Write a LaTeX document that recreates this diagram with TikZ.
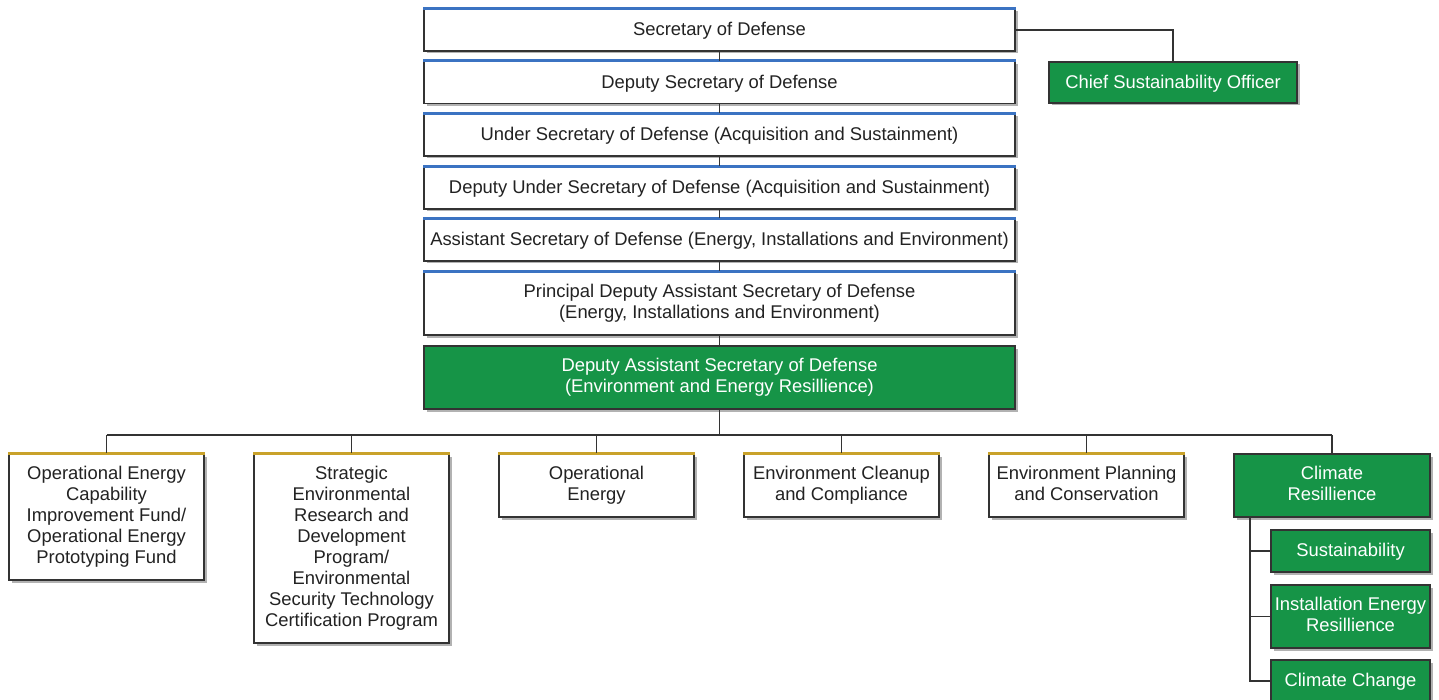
\documentclass[tikz,border=0pt]{standalone}
\usepackage{fontspec}
\setmainfont{Liberation Sans}
\usetikzlibrary{shadows}
\definecolor{dodgreen}{HTML}{169447}
\definecolor{topblue}{HTML}{3B73C2}
\definecolor{topgold}{HTML}{C9A22A}
\definecolor{edge}{HTML}{333333}
\definecolor{txt}{HTML}{222222}
\newcommand{\topstrut}{\rule{0pt}{16.2pt}}
\newcommand{\botstrut}{\rule[-4.8pt]{0pt}{4.8pt}}
\tikzset{
  box/.style={draw=edge, line width=1.4pt, fill=white, text=txt, align=center,
    font=\fontsize{18.4}{21}\selectfont, inner sep=1pt,
    execute at begin node=\topstrut, execute at end node=\botstrut,
    drop shadow={shadow xshift=2.5pt, shadow yshift=-2.5pt, opacity=0.3, fill=black}},
  greenbox/.style={box, fill=dodgreen, text=white},
  conn/.style={draw=edge, line width=1.6pt},
  blueedge/.style={draw=topblue, line width=2.6pt},
  goldedge/.style={draw=topgold, line width=2.6pt},
}
\begin{document}
\begin{tikzpicture}[x=1pt,y=-1pt]
\useasboundingbox (0,0) rectangle (1439,700);
% top column
\node[box, minimum width=591pt, minimum height=42pt] (sec) at (719.5,30) {Secretary of Defense};
\node[box, minimum width=591pt, minimum height=42pt] (dep) at (719.5,82.5) {Deputy Secretary of Defense};
\node[box, minimum width=591pt, minimum height=42pt] (usd) at (719.5,135) {Under Secretary of Defense (Acquisition and Sustainment)};
\node[box, minimum width=591pt, minimum height=42pt] (dusd) at (719.5,188) {Deputy Under Secretary of Defense (Acquisition and Sustainment)};
\node[box, minimum width=591pt, minimum height=42pt] (asd) at (719.5,240) {Assistant Secretary of Defense (Energy, Installations and Environment)};
\node[box, minimum width=591pt, minimum height=63pt] (pdasd) at (719.5,303.5) {Principal Deputy Assistant Secretary of Defense\\(Energy, Installations and Environment)};
\node[greenbox, minimum width=591pt, minimum height=63pt] (dasd) at (719.5,377.5) {Deputy Assistant Secretary of Defense\\(Environment and Energy Resillience)};
\node[greenbox, minimum width=248pt, minimum height=41pt] (cso) at (1173,82.5) {Chief Sustainability Officer};
\foreach \n in {sec,dep,usd,dusd,asd,pdasd}{
  \draw[blueedge] (\n.north west) -- (\n.north east);
}
\draw[conn] (sec.south) -- (dep.north);
\draw[conn] (dep.south) -- (usd.north);
\draw[conn] (usd.south) -- (dusd.north);
\draw[conn] (dusd.south) -- (asd.north);
\draw[conn] (asd.south) -- (pdasd.north);
\draw[conn] (pdasd.south) -- (dasd.north);
\draw[conn] (sec.east) -| (cso.north);
% bottom row
\node[box, minimum width=195pt, minimum height=126pt] (b1) at (106.5,517) {Operational Energy\\Capability\\Improvement Fund/\\Operational Energy\\Prototyping Fund};
\node[box, minimum width=195pt, minimum height=189pt] (b2) at (351.5,548.5) {Strategic\\Environmental\\Research and\\Development\\Program/\\Environmental\\Security Technology\\Certification Program};
\node[box, minimum width=195pt, minimum height=63pt] (b3) at (596.5,485.5) {Operational\\Energy};
\node[box, minimum width=195pt, minimum height=63pt] (b4) at (841.5,485.5) {Environment Cleanup\\and Compliance};
\node[box, minimum width=195pt, minimum height=63pt] (b5) at (1086.5,485.5) {Environment Planning\\and Conservation};
\node[greenbox, minimum width=196pt, minimum height=63pt] (b6) at (1332,485.5) {Climate\\Resillience};
\foreach \n in {b1,b2,b3,b4,b5}{
  \draw[goldedge] (\n.north west) -- (\n.north east);
}
\coordinate (busy) at (0,435);
\draw[conn] (dasd.south) -- (dasd.south |- busy);
\draw[conn] (b1.north |- busy) -- (b6.north |- busy);
\foreach \n in {b1,b2,b3,b4,b5,b6}{
  \draw[conn] (\n.north |- busy) -- (\n.north);
}
% climate resilience subs
\node[greenbox, minimum width=159pt, minimum height=42pt] (sus) at (1350.5,551) {Sustainability};
\node[greenbox, minimum width=159pt, minimum height=63pt] (ier) at (1350.5,616.5) {Installation Energy\\Resillience};
\node[greenbox, minimum width=159pt, minimum height=42pt] (cc) at (1350.5,681) {Climate Change};
\coordinate (spine) at (1250,0);
\draw[conn] (b6.south -| spine) -- (cc.west -| spine) -- (cc.west);
\draw[conn] (sus.west -| spine) -- (sus.west);
\draw[conn] (ier.west -| spine) -- (ier.west);
\end{tikzpicture}
\end{document}
